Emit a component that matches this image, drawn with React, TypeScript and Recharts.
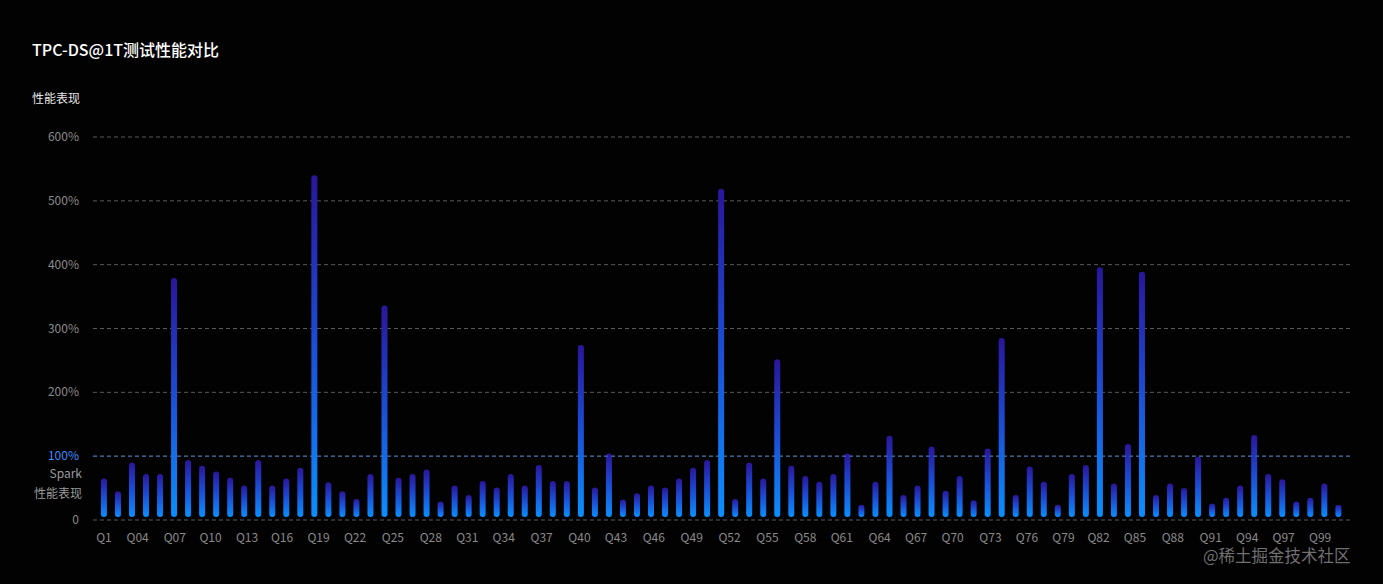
import { ComposedChart, Bar, XAxis, YAxis, CartesianGrid, ReferenceLine } from 'recharts';

// relative performance vs Spark (Spark = 100%), one bar per query, left to right
const perf = [
  65, 45, 90, 72, 72, 379, 94, 85, 76, 66, 54, 94, 54, 65, 82,
  540, 59, 45, 33, 72, 336, 66, 72, 79, 29, 54, 39, 61, 51,
  72, 54, 86, 61, 61, 274, 51, 104, 32, 42, 54, 51, 65, 82, 94,
  519, 33, 90, 65, 252, 85, 69, 60, 72, 104, 24, 60, 132, 39, 54,
  115, 46, 69, 31, 112, 285, 39, 84, 60, 24, 72, 86, 396, 57,
  119, 389, 39, 57, 50, 99, 26, 35, 54, 133, 72, 64, 29, 35, 57, 24,
];

const xLabels = [
  'Q1', 'Q04', 'Q07', 'Q10', 'Q13', 'Q16', 'Q19', 'Q22', 'Q25', 'Q28', 'Q31', 'Q34',
  'Q37', 'Q40', 'Q43', 'Q46', 'Q49', 'Q52', 'Q55', 'Q58', 'Q61', 'Q64', 'Q67', 'Q70',
  'Q73', 'Q76', 'Q79', 'Q82', 'Q85', 'Q88', 'Q91', 'Q94', 'Q97', 'Q99',
];
// where each label sits, in bar-index units
const xLabelAt = [
  0, 2.4, 5.05, 7.6, 10.2, 12.7, 15.3, 17.9, 20.6, 23.3, 25.9, 28.5,
  31.2, 33.9, 36.5, 39.2, 41.9, 44.6, 47.3, 50.0, 52.6, 55.3, 57.9, 60.5,
  63.2, 65.8, 68.4, 70.9, 73.5, 76.2, 78.9, 81.5, 84.1, 86.7,
];

const yTicks = [0, 100, 200, 300, 400, 500, 600];

const data = perf.map((v, i) => ({ idx: i, perf: v }));

const FONT = "'Noto Sans CJK SC', 'Noto Sans', sans-serif";
const TICK = '#8a8a8a';

function YTick({ x, y, payload }: any) {
  const v = payload.value;
  if (v === 100) {
    return (
      <g>
        <text x={x} y={y} dy={4} textAnchor="end" fontSize={12} fill="#3d8bff">100%</text>
        <text x={x + 3} y={y + 18} dy={4} textAnchor="end" fontSize={12} fill="#9a9a9a">Spark</text>
        <text x={x + 3} y={y + 38} dy={4} textAnchor="end" fontSize={12} fill="#9a9a9a">性能表现</text>
      </g>
    );
  }
  return (
    <text x={x} y={y} dy={4} textAnchor="end" fontSize={12} fill={TICK}>
      {v === 0 ? '0' : `${v}%`}
    </text>
  );
}

function Pill(props: any) {
  const { x, y, width, height } = props;
  const h = Math.max(height - 3, 6);
  return <rect x={x} y={y} width={width} height={h} rx={width / 2} ry={width / 2} fill="url(#pillGrad)" />;
}

export default function App() {
  return (
    <div style={{ position: 'absolute', left: 0, top: 0, width: 1383, height: 584, background: '#020202', fontFamily: FONT, overflow: 'hidden' }}>
      <div style={{ position: 'absolute', left: 32, top: 37, color: '#fff', fontSize: 16, fontWeight: 500 }}>
        TPC-DS@1T测试性能对比
      </div>
      <div style={{ position: 'absolute', left: 32, top: 89, color: '#e6e6e6', fontSize: 12 }}>
        性能表现
      </div>
      <ComposedChart width={1383} height={584} data={data} margin={{ top: 137, right: 32, bottom: 34, left: 33 }}>
        <defs>
          <linearGradient id="pillGrad" x1="0" y1="0" x2="0" y2="1">
            <stop offset="0%" stopColor="#2a169c" />
            <stop offset="50%" stopColor="#1a4fd6" />
            <stop offset="100%" stopColor="#0a8fff" />
          </linearGradient>
        </defs>
        <CartesianGrid vertical={false} stroke="#5a5a5a" strokeDasharray="4 3" />
        <ReferenceLine y={100} stroke="#3a6fb5" strokeDasharray="4 3" />
        <XAxis
          dataKey="idx" type="number" domain={[-0.78, 88.9]} allowDataOverflow height={30}
          ticks={xLabelAt} interval={0} tickFormatter={(_v: number, i: number) => xLabels[i]}
          axisLine={false} tickLine={false} tickSize={0} tickMargin={13}
          tick={{ fill: TICK, fontSize: 12 }}
        />
        <YAxis
          width={60} domain={[0, 600]} ticks={yTicks} interval={0}
          axisLine={false} tickLine={false} tickSize={0} tickMargin={14}
          tick={<YTick />}
        />
        <Bar dataKey="perf" barSize={6} shape={<Pill />} isAnimationActive={false} />
      </ComposedChart>
      <div style={{ position: 'absolute', left: 1203, top: 547, color: 'rgba(150,150,150,0.75)', fontSize: 16.5, lineHeight: '16px' }}>
        @稀土掘金技术社区
      </div>
    </div>
  );
}
